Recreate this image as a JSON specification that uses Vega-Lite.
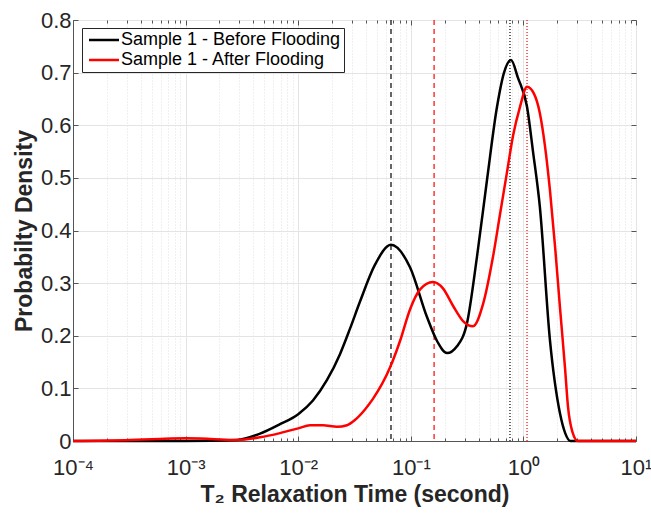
{
  "$schema": "https://vega.github.io/schema/vega-lite/v6.json",
  "autosize": "none",
  "width": 563,
  "height": 421,
  "padding": {"left": 73, "top": 20, "right": 15, "bottom": 75},
  "background": "white",
  "config": {
    "font": "Liberation Sans",
    "view": {"stroke": "#555555", "strokeWidth": 1},
    "axis": {"labelFont": "Liberation Sans", "titleFont": "Liberation Sans", "labelColor": "#262626", "titleColor": "#262626", "domainColor": "#555555", "tickColor": "#555555"}
  },
  "datasets": {
    "curves": [
      {"series": "Sample 1 - Before Flooding", "T": 0.0001, "p": 0},
      {"series": "Sample 1 - Before Flooding", "T": 0.001, "p": 0},
      {"series": "Sample 1 - Before Flooding", "T": 0.00286, "p": 0.002},
      {"series": "Sample 1 - Before Flooding", "T": 0.00458, "p": 0.014},
      {"series": "Sample 1 - Before Flooding", "T": 0.00689, "p": 0.032},
      {"series": "Sample 1 - Before Flooding", "T": 0.01, "p": 0.051},
      {"series": "Sample 1 - Before Flooding", "T": 0.01352, "p": 0.077},
      {"series": "Sample 1 - Before Flooding", "T": 0.01803, "p": 0.116},
      {"series": "Sample 1 - Before Flooding", "T": 0.0235, "p": 0.165},
      {"series": "Sample 1 - Before Flooding", "T": 0.0288, "p": 0.213},
      {"series": "Sample 1 - Before Flooding", "T": 0.0354, "p": 0.265},
      {"series": "Sample 1 - Before Flooding", "T": 0.0481, "p": 0.335},
      {"series": "Sample 1 - Before Flooding", "T": 0.0667, "p": 0.373},
      {"series": "Sample 1 - Before Flooding", "T": 0.0984, "p": 0.33},
      {"series": "Sample 1 - Before Flooding", "T": 0.139, "p": 0.236},
      {"series": "Sample 1 - Before Flooding", "T": 0.171, "p": 0.19},
      {"series": "Sample 1 - Before Flooding", "T": 0.2096, "p": 0.167},
      {"series": "Sample 1 - Before Flooding", "T": 0.257, "p": 0.18},
      {"series": "Sample 1 - Before Flooding", "T": 0.3155, "p": 0.224},
      {"series": "Sample 1 - Before Flooding", "T": 0.387, "p": 0.35},
      {"series": "Sample 1 - Before Flooding", "T": 0.475, "p": 0.496},
      {"series": "Sample 1 - Before Flooding", "T": 0.583, "p": 0.635},
      {"series": "Sample 1 - Before Flooding", "T": 0.673, "p": 0.7},
      {"series": "Sample 1 - Before Flooding", "T": 0.776, "p": 0.724},
      {"series": "Sample 1 - Before Flooding", "T": 0.895, "p": 0.69},
      {"series": "Sample 1 - Before Flooding", "T": 1.077, "p": 0.635},
      {"series": "Sample 1 - Before Flooding", "T": 1.217, "p": 0.55},
      {"series": "Sample 1 - Before Flooding", "T": 1.4, "p": 0.445},
      {"series": "Sample 1 - Before Flooding", "T": 1.72, "p": 0.192},
      {"series": "Sample 1 - Before Flooding", "T": 2.11, "p": 0.053},
      {"series": "Sample 1 - Before Flooding", "T": 2.35, "p": 0.015},
      {"series": "Sample 1 - Before Flooding", "T": 2.62, "p": 0},
      {"series": "Sample 1 - Before Flooding", "T": 10, "p": 0},
      {"series": "Sample 1 - After Flooding", "T": 0.0001, "p": 0},
      {"series": "Sample 1 - After Flooding", "T": 0.00032, "p": 0.002},
      {"series": "Sample 1 - After Flooding", "T": 0.000594, "p": 0.004},
      {"series": "Sample 1 - After Flooding", "T": 0.001, "p": 0.005},
      {"series": "Sample 1 - After Flooding", "T": 0.00165, "p": 0.004},
      {"series": "Sample 1 - After Flooding", "T": 0.00286, "p": 0.002},
      {"series": "Sample 1 - After Flooding", "T": 0.00458, "p": 0.007},
      {"series": "Sample 1 - After Flooding", "T": 0.00689, "p": 0.015},
      {"series": "Sample 1 - After Flooding", "T": 0.01, "p": 0.024},
      {"series": "Sample 1 - After Flooding", "T": 0.01274, "p": 0.03},
      {"series": "Sample 1 - After Flooding", "T": 0.0166, "p": 0.03},
      {"series": "Sample 1 - After Flooding", "T": 0.0221, "p": 0.027},
      {"series": "Sample 1 - After Flooding", "T": 0.0271, "p": 0.03},
      {"series": "Sample 1 - After Flooding", "T": 0.0319, "p": 0.04},
      {"series": "Sample 1 - After Flooding", "T": 0.0392, "p": 0.06},
      {"series": "Sample 1 - After Flooding", "T": 0.0461, "p": 0.08},
      {"series": "Sample 1 - After Flooding", "T": 0.0655, "p": 0.14},
      {"series": "Sample 1 - After Flooding", "T": 0.0802, "p": 0.19},
      {"series": "Sample 1 - After Flooding", "T": 0.0984, "p": 0.25},
      {"series": "Sample 1 - After Flooding", "T": 0.121, "p": 0.288},
      {"series": "Sample 1 - After Flooding", "T": 0.157, "p": 0.302},
      {"series": "Sample 1 - After Flooding", "T": 0.193, "p": 0.29},
      {"series": "Sample 1 - After Flooding", "T": 0.237, "p": 0.257},
      {"series": "Sample 1 - After Flooding", "T": 0.291, "p": 0.228},
      {"series": "Sample 1 - After Flooding", "T": 0.357, "p": 0.218},
      {"series": "Sample 1 - After Flooding", "T": 0.438, "p": 0.26},
      {"series": "Sample 1 - After Flooding", "T": 0.537, "p": 0.35},
      {"series": "Sample 1 - After Flooding", "T": 0.619, "p": 0.43},
      {"series": "Sample 1 - After Flooding", "T": 0.714, "p": 0.51},
      {"series": "Sample 1 - After Flooding", "T": 0.809, "p": 0.58},
      {"series": "Sample 1 - After Flooding", "T": 0.933, "p": 0.635},
      {"series": "Sample 1 - After Flooding", "T": 1.077, "p": 0.673},
      {"series": "Sample 1 - After Flooding", "T": 1.24, "p": 0.66},
      {"series": "Sample 1 - After Flooding", "T": 1.4, "p": 0.623},
      {"series": "Sample 1 - After Flooding", "T": 1.556, "p": 0.56},
      {"series": "Sample 1 - After Flooding", "T": 1.72, "p": 0.477},
      {"series": "Sample 1 - After Flooding", "T": 1.91, "p": 0.37},
      {"series": "Sample 1 - After Flooding", "T": 2.11, "p": 0.255},
      {"series": "Sample 1 - After Flooding", "T": 2.34, "p": 0.14},
      {"series": "Sample 1 - After Flooding", "T": 2.49, "p": 0.065},
      {"series": "Sample 1 - After Flooding", "T": 2.72, "p": 0.018},
      {"series": "Sample 1 - After Flooding", "T": 3.05, "p": 0},
      {"series": "Sample 1 - After Flooding", "T": 10, "p": 0}
    ],
    "markers": [
      {"series": "Before", "kind": "first", "T": 0.0667},
      {"series": "After", "kind": "first", "T": 0.161},
      {"series": "Before", "kind": "second", "T": 0.76},
      {"series": "After", "kind": "second", "T": 1.077}
    ]
  },
  "resolve": {"axis": {"x": "independent", "y": "independent"}},
  "layer": [
    {
      "data": {"name": "markers"},
      "transform": [{"filter": "datum.series == 'Before' && datum.kind == 'first'"}],
      "mark": {"type": "rule", "color": "black", "strokeDash": [5, 4], "strokeWidth": 1.2},
      "encoding": {
        "x": {"field": "T", "type": "quantitative", "scale": {"type": "log", "domain": [0.0001, 10], "nice": false},
          "axis": {"orient": "bottom", "values": [0.0002,0.0003,0.0004,0.0005,0.0006,0.0007,0.0008,0.0009,0.002,0.003,0.004,0.005,0.006,0.007,0.008,0.009,0.02,0.03,0.04,0.05,0.06,0.07,0.08,0.09,0.2,0.3,0.4,0.5,0.6,0.7,0.8,0.9,2,3,4,5,6,7,8,9],
            "labels": false, "title": null, "domain": false, "tickSize": -3, "grid": true, "gridColor": "#d8d8d8", "gridDash": [1, 2], "gridWidth": 0.8}}
      }
    },
    {
      "data": {"name": "markers"},
      "transform": [{"filter": "datum.series == 'After' && datum.kind == 'first'"}],
      "mark": {"type": "rule", "color": "#ff0000", "strokeDash": [5, 4], "strokeWidth": 1.2},
      "encoding": {
        "x": {"field": "T", "type": "quantitative",
          "axis": {"orient": "top", "values": [0.0001, 0.001, 0.01, 0.1, 1, 10], "labels": false, "title": null, "domain": false, "tickSize": -5, "grid": false}}
      }
    },
    {
      "data": {"name": "markers"},
      "transform": [{"filter": "datum.series == 'Before' && datum.kind == 'second'"}],
      "mark": {"type": "rule", "color": "black", "strokeDash": [1, 2], "strokeWidth": 1.2},
      "encoding": {
        "x": {"field": "T", "type": "quantitative",
          "axis": {"orient": "top", "values": [0.0002,0.0003,0.0004,0.0005,0.0006,0.0007,0.0008,0.0009,0.002,0.003,0.004,0.005,0.006,0.007,0.008,0.009,0.02,0.03,0.04,0.05,0.06,0.07,0.08,0.09,0.2,0.3,0.4,0.5,0.6,0.7,0.8,0.9,2,3,4,5,6,7,8,9],
            "labels": false, "title": null, "domain": false, "tickSize": -3, "grid": false}}
      }
    },
    {
      "data": {"name": "markers"},
      "transform": [{"filter": "datum.series == 'After' && datum.kind == 'second'"}],
      "mark": {"type": "rule", "color": "#ff0000", "strokeDash": [1, 2], "strokeWidth": 1.2},
      "encoding": {
        "x": {"field": "T", "type": "quantitative", "axis": null}
      }
    },
    {
      "data": {"name": "curves"},
      "mark": {"type": "line", "interpolate": "monotone", "strokeWidth": 2.5},
      "encoding": {
        "x": {"field": "T", "type": "quantitative",
          "axis": {"orient": "bottom", "values": [0.0001, 0.001, 0.01, 0.1, 1, 10],
            "labelExpr": "['10⁻⁴','10⁻³','10⁻²','10⁻¹','10⁰','10¹'][round(log(datum.value)/LN10)+4]",
            "labelFontSize": 22, "labelPadding": 21, "labelFlush": false, "tickSize": -5, "domain": true,
            "grid": true, "gridColor": "#e4e4e4", "gridWidth": 1,
            "title": "T₂ Relaxation Time (second)", "titleFontSize": 23, "titleFontWeight": "bold", "titlePadding": 5}},
        "y": {"field": "p", "type": "quantitative", "scale": {"domain": [0, 0.8], "nice": false},
          "axis": {"orient": "left", "values": [0, 0.1, 0.2, 0.3, 0.4, 0.5, 0.6, 0.7, 0.8],
            "labelExpr": "datum.value == 0 ? '0' : format(datum.value, '.1f')",
            "labelFontSize": 22, "labelPadding": 7, "tickSize": -5, "labelFlush": false,
            "grid": true, "gridColor": "#e4e4e4", "gridWidth": 1,
            "title": "Probabilty Density", "titleFontSize": 23, "titleFontWeight": "bold", "titlePadding": 4}},
        "color": {"field": "series", "type": "nominal",
          "scale": {"domain": ["Sample 1 - Before Flooding", "Sample 1 - After Flooding"], "range": ["#000000", "#ff0000"]},
          "legend": {"orient": "none", "legendX": 9, "legendY": 8, "title": null, "symbolType": "M-1,0H5", "symbolSize": 100, "symbolStrokeWidth": 2.5, "symbolFillColor": "transparent",
            "labelFontSize": 18, "labelColor": "#000000", "labelFont": "Liberation Sans", "rowPadding": 2, "strokeColor": "#262626", "fillColor": "white", "padding": 3, "labelOffset": 18, "labelLimit": 400}}
      }
    },
    {
      "data": {"name": "curves"},
      "mark": {"type": "line", "opacity": 0},
      "encoding": {
        "x": {"field": "T", "type": "quantitative", "axis": null},
        "y": {"field": "p", "type": "quantitative",
          "axis": {"orient": "right", "values": [0, 0.1, 0.2, 0.3, 0.4, 0.5, 0.6, 0.7, 0.8], "labels": false, "title": null, "domain": false, "tickSize": -5, "grid": false}}
      }
    }
  ]
}
